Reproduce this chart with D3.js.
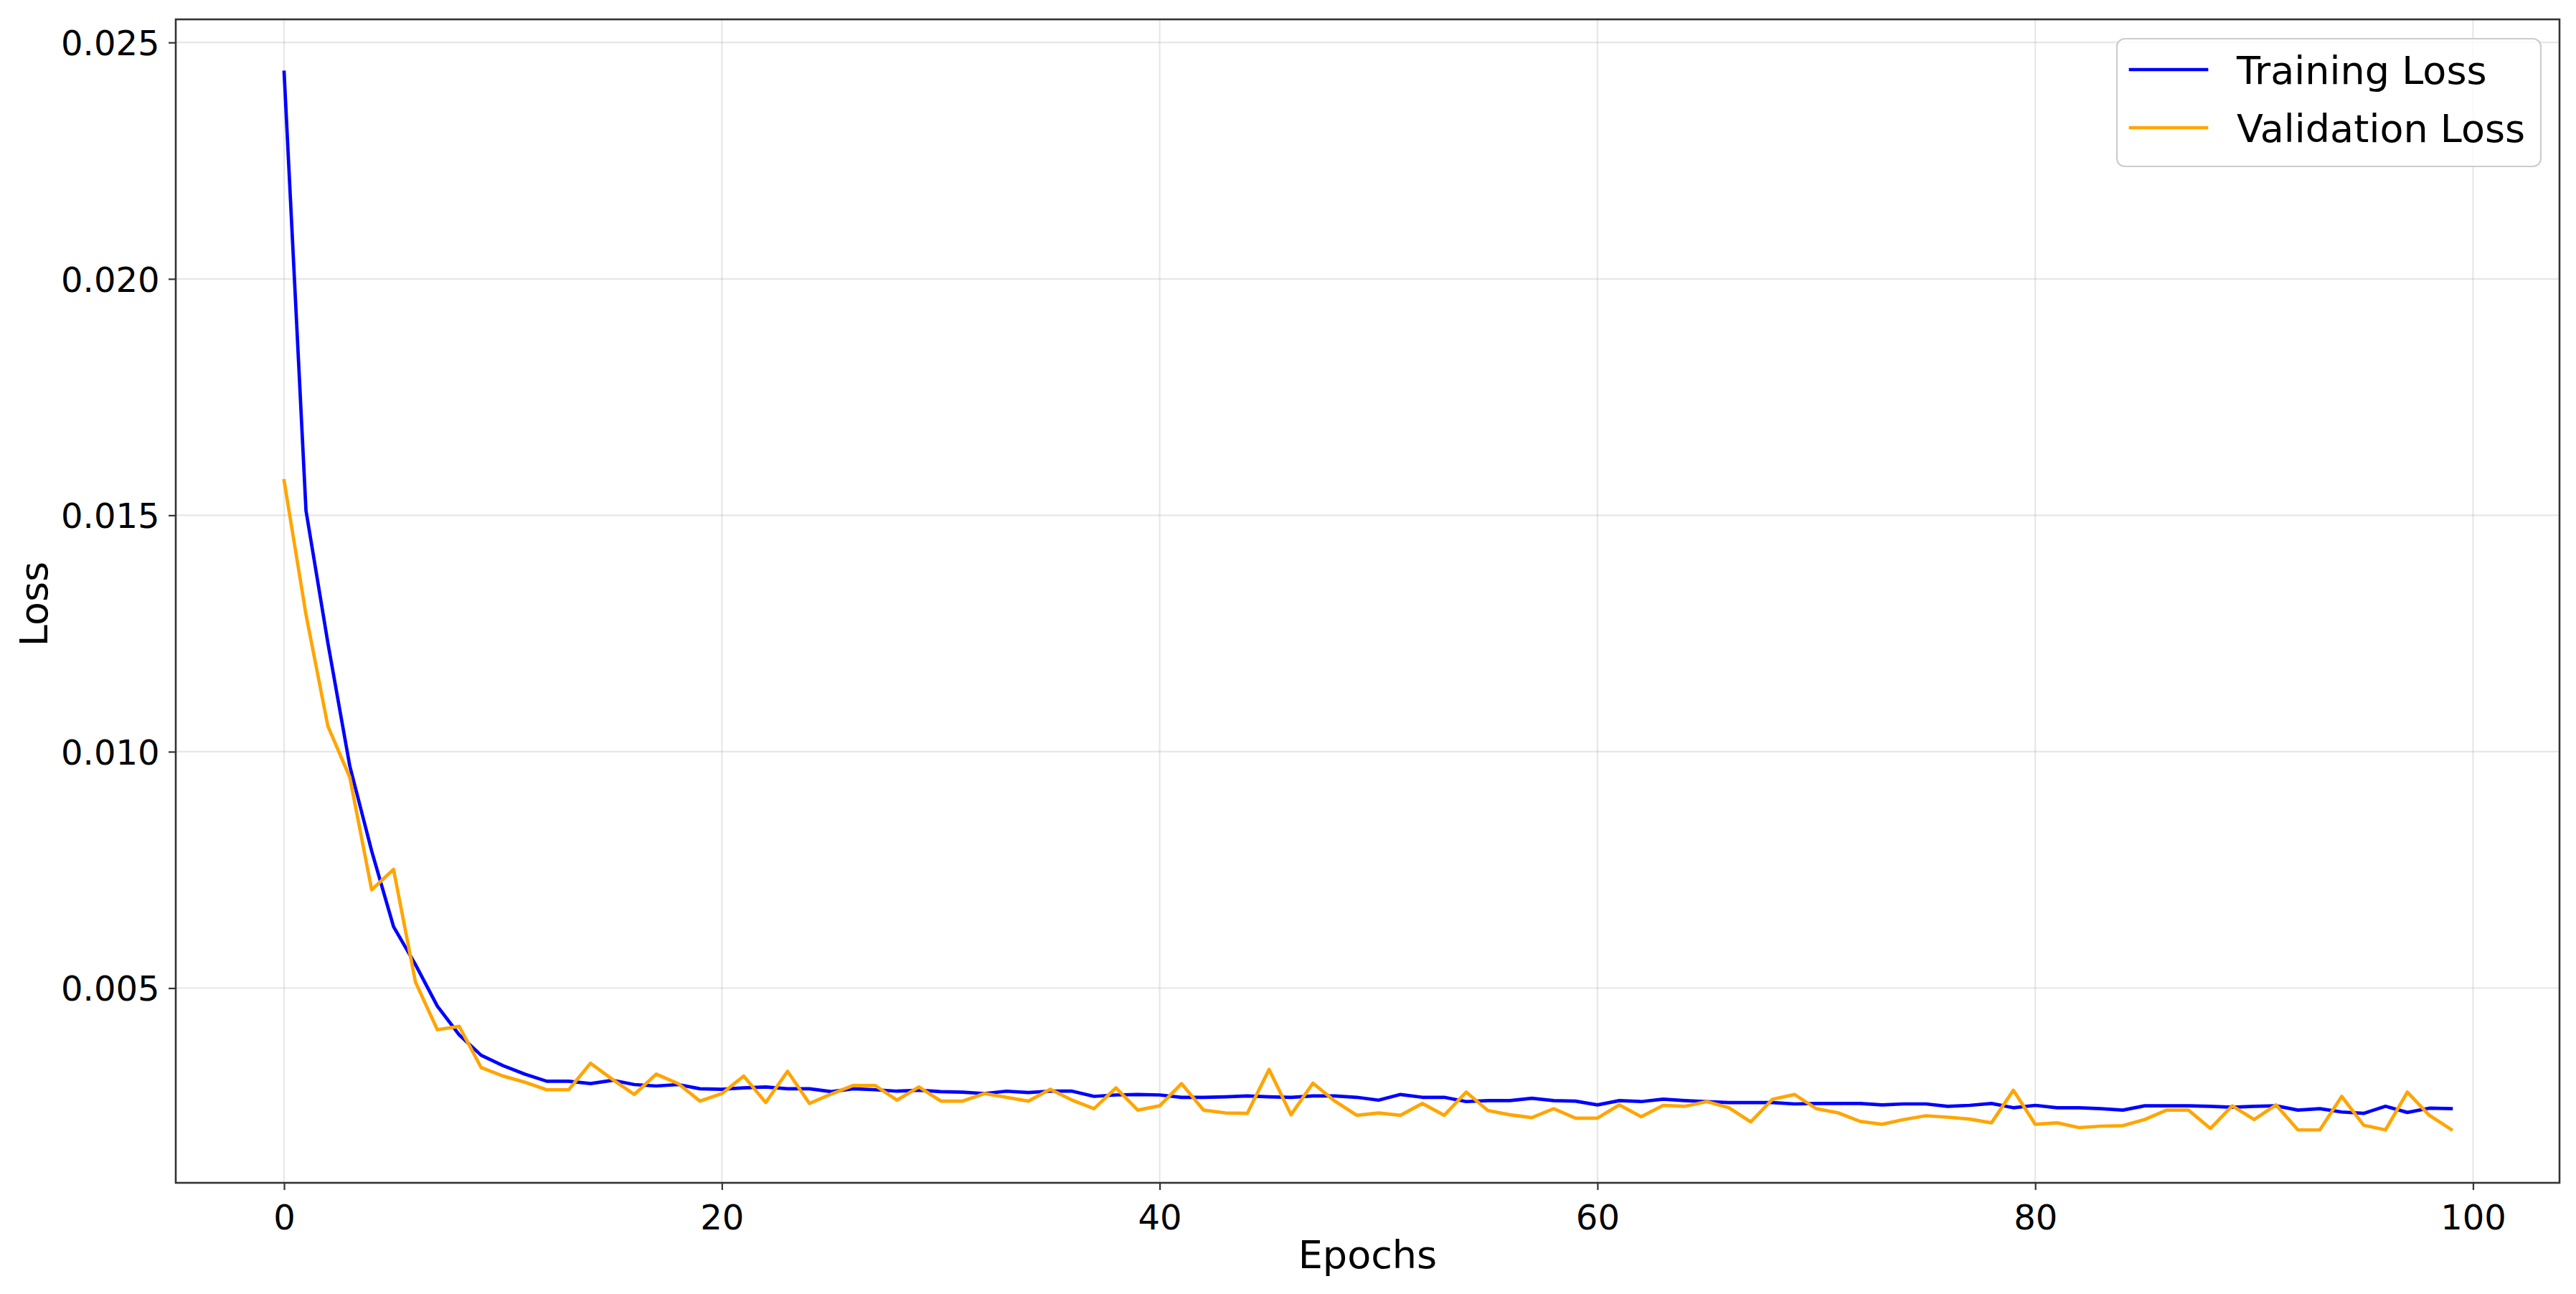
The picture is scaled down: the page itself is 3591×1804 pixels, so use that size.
<!DOCTYPE html>
<html>
<head>
<meta charset="utf-8">
<script src="https://cdn.jsdelivr.net/npm/d3@7"></script>
<style>
  html, body { margin: 0; padding: 0; background: #ffffff; }
  svg { display: block; }
</style>
</head>
<body>
<svg id="chart" width="3591" height="1804"></svg>
<script>
const epochs = d3.range(0, 100);

const trainingLoss = [
  0.02437, 0.0151, 0.0123, 0.0097, 0.0079, 0.0063, 0.0055, 0.00462, 0.00401, 0.00358,
  0.00336, 0.00318, 0.00303, 0.00303, 0.00298, 0.00305, 0.00296, 0.00293, 0.00296, 0.00287,
  0.00286, 0.00289, 0.00291, 0.00287, 0.00287, 0.00281, 0.00287, 0.00285, 0.00282, 0.00284,
  0.00281, 0.00280, 0.00277, 0.00282, 0.00279, 0.00282, 0.00282, 0.00271, 0.00274, 0.00275,
  0.00274, 0.00269, 0.00269, 0.00270, 0.00272, 0.00270, 0.00269, 0.00272, 0.00272, 0.00269,
  0.00263, 0.00275, 0.00269, 0.00269, 0.00260, 0.00262, 0.00262, 0.00267, 0.00262, 0.00261,
  0.00253, 0.00262, 0.00260, 0.00265, 0.00262, 0.00260, 0.00258, 0.00258, 0.00258, 0.00255,
  0.00256, 0.00256, 0.00256, 0.00253, 0.00255, 0.00255, 0.00250, 0.00252, 0.00256, 0.00247,
  0.00252, 0.00247, 0.00247, 0.00245, 0.00242, 0.00251, 0.00251, 0.00251, 0.00250, 0.00248,
  0.00250, 0.00251, 0.00242, 0.00245, 0.00238, 0.00235, 0.00250, 0.00237, 0.00246, 0.00245
];

const validationLoss = [
  0.01573, 0.0129, 0.01054, 0.00946, 0.00708, 0.00751, 0.00513, 0.00412, 0.00419, 0.00332,
  0.00314, 0.00301, 0.00285, 0.00285, 0.00341, 0.00307, 0.00275, 0.00318, 0.00298, 0.00261,
  0.00277, 0.00314, 0.00258, 0.00324, 0.00256, 0.00276, 0.00294, 0.00294, 0.00263, 0.00291,
  0.00261, 0.00261, 0.00277, 0.00269, 0.00261, 0.00286, 0.00263, 0.00245, 0.00289, 0.00242,
  0.00251, 0.00298, 0.00242, 0.00236, 0.00235, 0.00328, 0.00232, 0.00299, 0.00261, 0.00231,
  0.00236, 0.00231, 0.00256, 0.00231, 0.00280, 0.00241, 0.00232, 0.00226, 0.00245, 0.00225,
  0.00225, 0.00253, 0.00228, 0.00252, 0.00250, 0.00260, 0.00247, 0.00217, 0.00265, 0.00275,
  0.00245, 0.00236, 0.00218, 0.00212, 0.00222, 0.00230, 0.00227, 0.00223, 0.00215, 0.00284,
  0.00212, 0.00215, 0.00205, 0.00208, 0.00209, 0.00222, 0.00242, 0.00242, 0.00203, 0.00251,
  0.00222, 0.00253, 0.00200, 0.00200, 0.00271, 0.00210, 0.00200, 0.00280, 0.00231, 0.00201
];

const seriesNames = ["Training Loss", "Validation Loss"];
const seriesColors = ["#0000ff", "#ffa500"];
const xTicks = [0, 20, 40, 60, 80, 100];
const yTicks = [0.005, 0.010, 0.015, 0.020, 0.025];
const xLabel = "Epochs";
const yLabel = "Loss";

// ---------- layout ----------
const W = 3591, H = 1804;
const plot = { left: 245, right: 3568, top: 27, bottom: 1649 };
const FONT = "DejaVu Sans, Verdana, sans-serif";
const tickFs = 48, labelFs = 54, legendFs = 54;
const tickLen = 10, tickPad = 9.5;
const lineW = 4.7;

const svg = d3.select("#chart");
svg.append("rect").attr("width", W).attr("height", H).attr("fill", "#ffffff");

// matplotlib-like autoscale with 5% margins
const xMin = d3.min(epochs), xMax = d3.max(epochs);
const xm = (xMax - xMin) * 0.05;
const allVals = trainingLoss.concat(validationLoss);
const yMinD = d3.min(allVals), yMaxD = d3.max(allVals);
const ym = (yMaxD - yMinD) * 0.05;

const x = d3.scaleLinear().domain([xMin - xm, xMax + xm]).range([plot.left, plot.right]);
const y = d3.scaleLinear().domain([yMinD - ym, yMaxD + ym]).range([plot.bottom, plot.top]);

// grid
const grid = svg.append("g");
grid.selectAll("line.gx").data(xTicks).join("line")
  .attr("x1", d => x(d)).attr("x2", d => x(d))
  .attr("y1", plot.top).attr("y2", plot.bottom)
  .attr("stroke", "#b0b0b0").attr("stroke-opacity", 0.3).attr("stroke-width", 2.2);
grid.selectAll("line.gy").data(yTicks).join("line")
  .attr("y1", d => y(d)).attr("y2", d => y(d))
  .attr("x1", plot.left).attr("x2", plot.right)
  .attr("stroke", "#b0b0b0").attr("stroke-opacity", 0.3).attr("stroke-width", 2.2);

// lines
svg.append("clipPath").attr("id", "clip").append("rect")
  .attr("x", plot.left).attr("y", plot.top)
  .attr("width", plot.right - plot.left).attr("height", plot.bottom - plot.top);

const lineGen = d3.line().x((d, i) => x(epochs[i])).y(d => y(d));
const series = [trainingLoss, validationLoss];
svg.append("g").attr("clip-path", "url(#clip)")
  .selectAll("path").data(series).join("path")
  .attr("d", d => lineGen(d))
  .attr("fill", "none")
  .attr("stroke", (d, i) => seriesColors[i])
  .attr("stroke-width", lineW)
  .attr("stroke-linejoin", "round")
  .attr("stroke-linecap", "square");

// axes using d3 axis generators
const xAxis = d3.axisBottom(x).tickValues(xTicks).tickFormat(d3.format("d"))
  .tickSizeInner(tickLen).tickSizeOuter(0).tickPadding(tickPad);
const yAxis = d3.axisLeft(y).tickValues(yTicks).tickFormat(d3.format(".3f"))
  .tickSizeInner(tickLen).tickSizeOuter(0).tickPadding(tickPad + 3);

const gx = svg.append("g").attr("transform", `translate(0,${plot.bottom})`).call(xAxis);
const gy = svg.append("g").attr("transform", `translate(${plot.left},0)`).call(yAxis);
[gx, gy].forEach(g => {
  g.select(".domain").remove();
  g.selectAll(".tick line").attr("stroke", "#333333").attr("stroke-width", 2.2);
  g.selectAll(".tick text").attr("fill", "#000000")
    .style("font-family", FONT).style("font-size", tickFs + "px");
});
gx.selectAll(".tick text").attr("dy", null).attr("y", tickLen + tickPad)
  .attr("dominant-baseline", "text-before-edge");
gy.selectAll(".tick text").attr("dy", "0.36em");

// spines
svg.append("rect")
  .attr("x", plot.left).attr("y", plot.top)
  .attr("width", plot.right - plot.left).attr("height", plot.bottom - plot.top)
  .attr("fill", "none").attr("stroke", "#333333").attr("stroke-width", 2.6);

// axis labels
svg.append("text")
  .attr("x", (plot.left + plot.right) / 2).attr("y", 1768)
  .attr("text-anchor", "middle")
  .style("font-family", FONT).style("font-size", labelFs + "px").attr("fill", "#000")
  .text(xLabel);
svg.append("text")
  .attr("transform", `translate(66,842) rotate(-90)`)
  .attr("text-anchor", "middle")
  .style("font-family", FONT).style("font-size", labelFs + "px").attr("fill", "#000")
  .text(yLabel);

// legend
const lg = svg.append("g");
const lgBox = { x: 2951, y: 54, w: 591, h: 178 };
lg.append("rect")
  .attr("x", lgBox.x).attr("y", lgBox.y).attr("width", lgBox.w).attr("height", lgBox.h)
  .attr("rx", 11).attr("ry", 11)
  .attr("fill", "#ffffff").attr("fill-opacity", 0.8)
  .attr("stroke", "#cccccc").attr("stroke-width", 2.2);
const entryY = [97, 178];
const items = lg.selectAll("g.item").data(seriesNames).join("g");
items.append("line")
  .attr("x1", 2970).attr("x2", 3076)
  .attr("y1", (d, i) => entryY[i]).attr("y2", (d, i) => entryY[i])
  .attr("stroke", (d, i) => seriesColors[i]).attr("stroke-width", lineW)
  .attr("stroke-linecap", "square");
items.append("text")
  .attr("x", 3118).attr("y", (d, i) => entryY[i] + 0.365 * legendFs)
  .style("font-family", FONT).style("font-size", legendFs + "px").attr("fill", "#000")
  .text(d => d);
</script>
</body>
</html>
